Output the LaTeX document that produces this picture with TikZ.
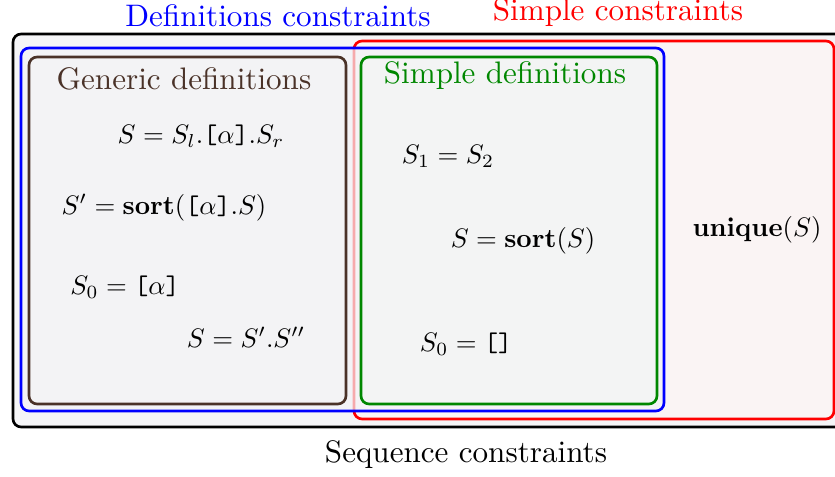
\documentclass[tikz,border=0pt]{standalone}
\begin{document}
\begin{tikzpicture}[x=0.3215pt,y=-0.3215pt,
  box/.style={line width=0.85pt,rounded corners=2.6pt},
  lbl/.style={inner sep=0pt,anchor=center},
]
\definecolor{outerfill}{RGB}{245,245,247}
\definecolor{redfill}{RGB}{250,244,244}
\definecolor{bluefill}{RGB}{243,243,246}
\definecolor{brownfill}{RGB}{243,243,245}
\definecolor{greenfill}{RGB}{243,244,244}
\definecolor{mybrown}{RGB}{74,50,40}
\definecolor{mygreen}{RGB}{0,135,0}
\newcommand{\fm}[1]{\scalebox{0.86}{#1}}
\useasboundingbox (0,0) rectangle (835,477);
\clip (0,0) rectangle (835,477);
% outer: sequence constraints
\draw[box,fill=outerfill,draw=black] (13,34) rectangle (850,427);
% simple constraints
\draw[box,fill=redfill,draw=red] (354,41) rectangle (834,419);
% definitions constraints
\fill[rounded corners=2.6pt,bluefill,fill opacity=0.7] (21,48) rectangle (664,411);
\draw[box,draw=blue] (21,48) rectangle (664,411);
% generic definitions
\draw[box,fill=brownfill,draw=mybrown] (29,57) rectangle (346,404);
% simple definitions
\draw[box,fill=greenfill,draw=mygreen] (361,57) rectangle (657,404);
% titles
\node[lbl,text=blue] (tdef) at (278,16) {Definitions constraints};
\node[lbl,text=red] (tsim) at (618,13) {Simple constraints};
\node[lbl] (tseq) at (466,455) {Sequence constraints};
\node[lbl,text=mybrown] (tgen) at (184,79) {Generic definitions};
\node[lbl,text=mygreen] (tsd) at (505,76) {Simple definitions};
% generic formulas
\node[lbl] (g1) at (201,136) {\fm{$S = S_l.\texttt{[}\alpha\texttt{]}.S_r$}};
\node[lbl] (g2) at (164,208) {\fm{$S' = \mathbf{sort}(\texttt{[}\alpha\texttt{]}.S)$}};
\node[lbl] (g3) at (125,287) {\fm{$S_0 = \texttt{[}\alpha\texttt{]}$}};
\node[lbl] (g4) at (246,337) {\fm{$S = S'.S''$}};
% simple formulas
\node[lbl] (s1) at (448,156) {\fm{$S_1 = S_2$}};
\node[lbl] (s2) at (523,241) {\fm{$S = \mathbf{sort}(S)$}};
\node[lbl] (s3) at (466,344) {\fm{$S_0 = \texttt{[]}$}};
\node[lbl] (u1) at (757,230) {\fm{$\mathbf{unique}(S)$}};
\end{tikzpicture}
\end{document}
